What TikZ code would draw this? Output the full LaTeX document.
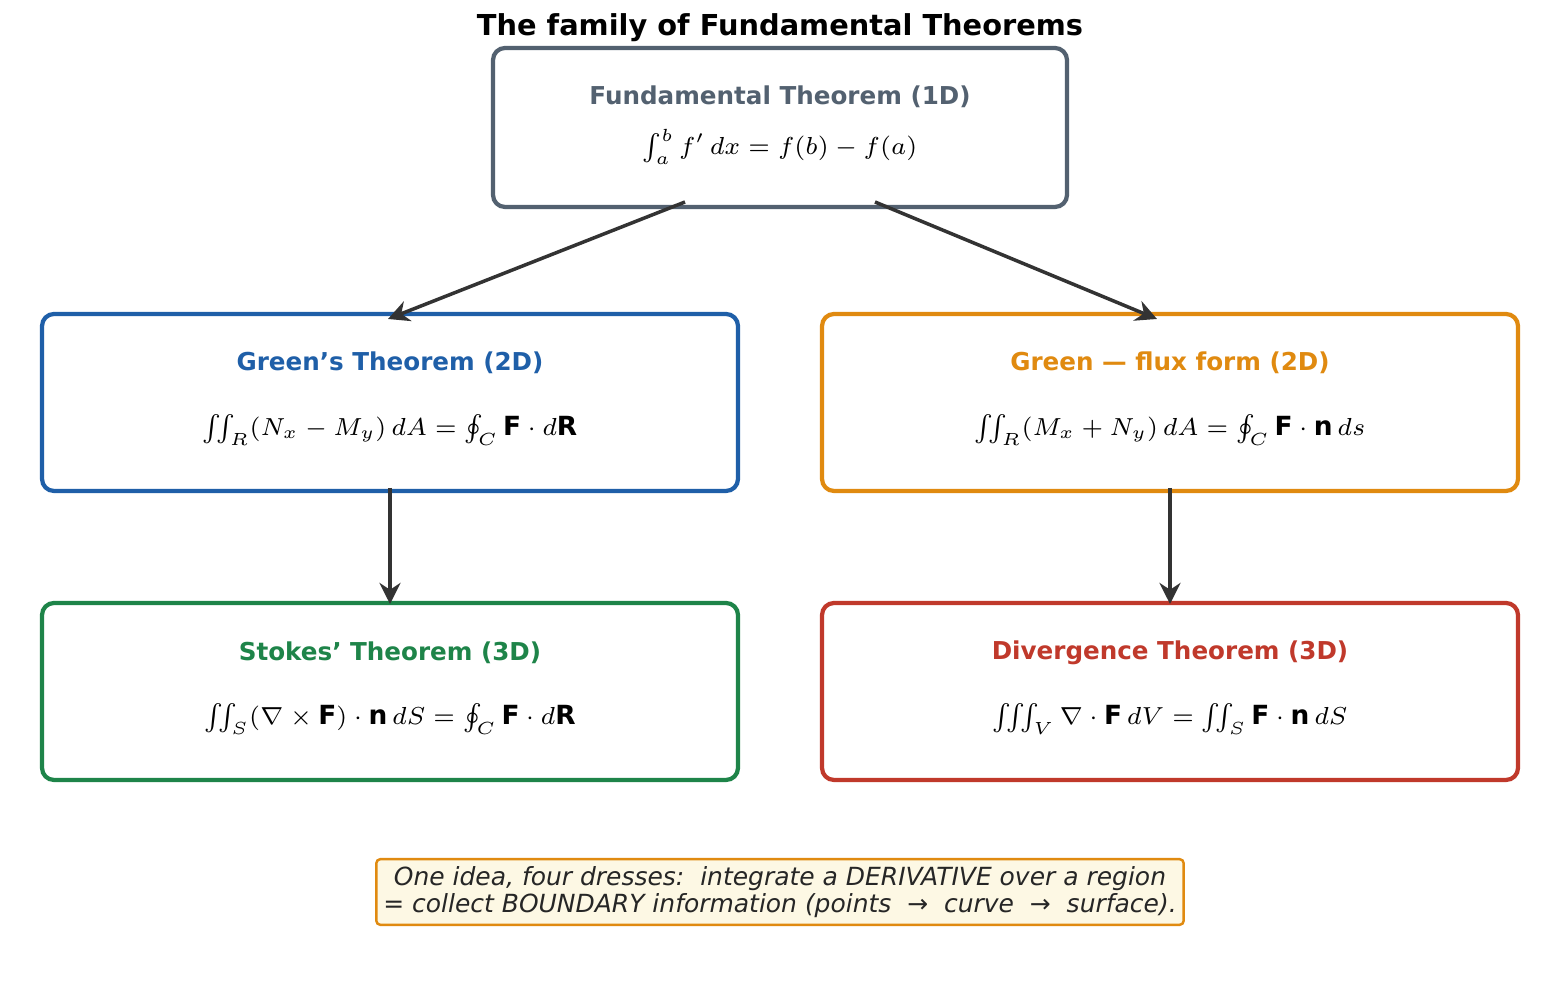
\documentclass[tikz,border=0pt]{standalone}
\usepackage{fontspec}
\usepackage{amsmath,amssymb}
\setmainfont{DejaVu Sans}
\usetikzlibrary{arrows.meta}
\definecolor{cgray}{HTML}{536170}
\definecolor{cblue}{HTML}{1F5FA8}
\definecolor{corange}{HTML}{E08A10}
\definecolor{cgreen}{HTML}{1E8449}
\definecolor{cred}{HTML}{C0392B}
\definecolor{cnote}{HTML}{FDF8E4}
\begin{document}
\begin{tikzpicture}[x=0.01cm,y=-0.01cm]
\tikzset{box/.style={draw, line width=1.2pt, rounded corners=0.12cm, fill=white},
  head/.style={font=\fontsize{7}{8}\selectfont\bfseries},
  eq/.style={font=\fontsize{7.5}{9}\selectfont},
  link/.style={draw=black!80, line width=1pt, -{Stealth[length=6pt,width=6pt]}}}
\useasboundingbox (0,0) rectangle (1560,1001);
\node[font=\fontsize{8.2}{10}\selectfont\bfseries] (title) at (780,28) {The family of Fundamental Theorems};
% boxes
\draw[box, draw=cgray] (493,48) rectangle (1067,207);
\draw[box, draw=cblue] (42,314) rectangle (738,491);
\draw[box, draw=corange] (822,314) rectangle (1518,491);
\draw[box, draw=cgreen] (42,603) rectangle (738,780);
\draw[box, draw=cred] (822,603) rectangle (1518,780);
% texts
\node[head, text=cgray] (fth) at (780,97) {Fundamental Theorem (1D)};
\node[eq] (fte) at (780,147) {$\int_a^b f'\,dx = f(b) - f(a)$};
\node[head, text=cblue] (grh) at (390,363) {Green's Theorem (2D)};
\node[eq] (gre) at (390,430) {$\iint_R (N_x - M_y)\,dA = \oint_C \mathbf{F}\cdot d\mathbf{R}$};
\node[head, text=corange] (flh) at (1170,363) {Green — flux form (2D)};
\node[eq] (fle) at (1170,430) {$\iint_R (M_x + N_y)\,dA = \oint_C \mathbf{F}\cdot \mathbf{n}\,ds$};
\node[head, text=cgreen] (sth) at (390,653) {Stokes' Theorem (3D)};
\node[eq] (ste) at (390,719) {$\iint_S (\nabla\times\mathbf{F})\cdot\mathbf{n}\,dS = \oint_C \mathbf{F}\cdot d\mathbf{R}$};
\node[head, text=cred] (dvh) at (1170,653) {Divergence Theorem (3D)};
\node[eq] (dve) at (1170,719) {$\iiint_V \nabla\cdot\mathbf{F}\,dV = \iint_S \mathbf{F}\cdot\mathbf{n}\,dS$};
% note
\node[draw=corange, fill=cnote, line width=0.7pt, rounded corners=0.04cm, align=center,
  font=\fontsize{7.1}{7.8}\selectfont\itshape, text=black!85, inner sep=2pt] (note) at (780,892)
  {One idea, four dresses:\ \ integrate a DERIVATIVE over a region\\= collect BOUNDARY information (points\ \ →\ \ curve\ \ →\ \ surface).};
% arrows
\coordinate (a1) at (685,202); \coordinate (b1) at (388,319);
\coordinate (a2) at (875,202); \coordinate (b2) at (1157,319);
\coordinate (a3) at (390,488); \coordinate (b3) at (390,604);
\coordinate (a4) at (1170,488); \coordinate (b4) at (1170,604);
\foreach \i in {1,...,4} \draw[link] (a\i) -- (b\i);
\end{tikzpicture}
\end{document}
